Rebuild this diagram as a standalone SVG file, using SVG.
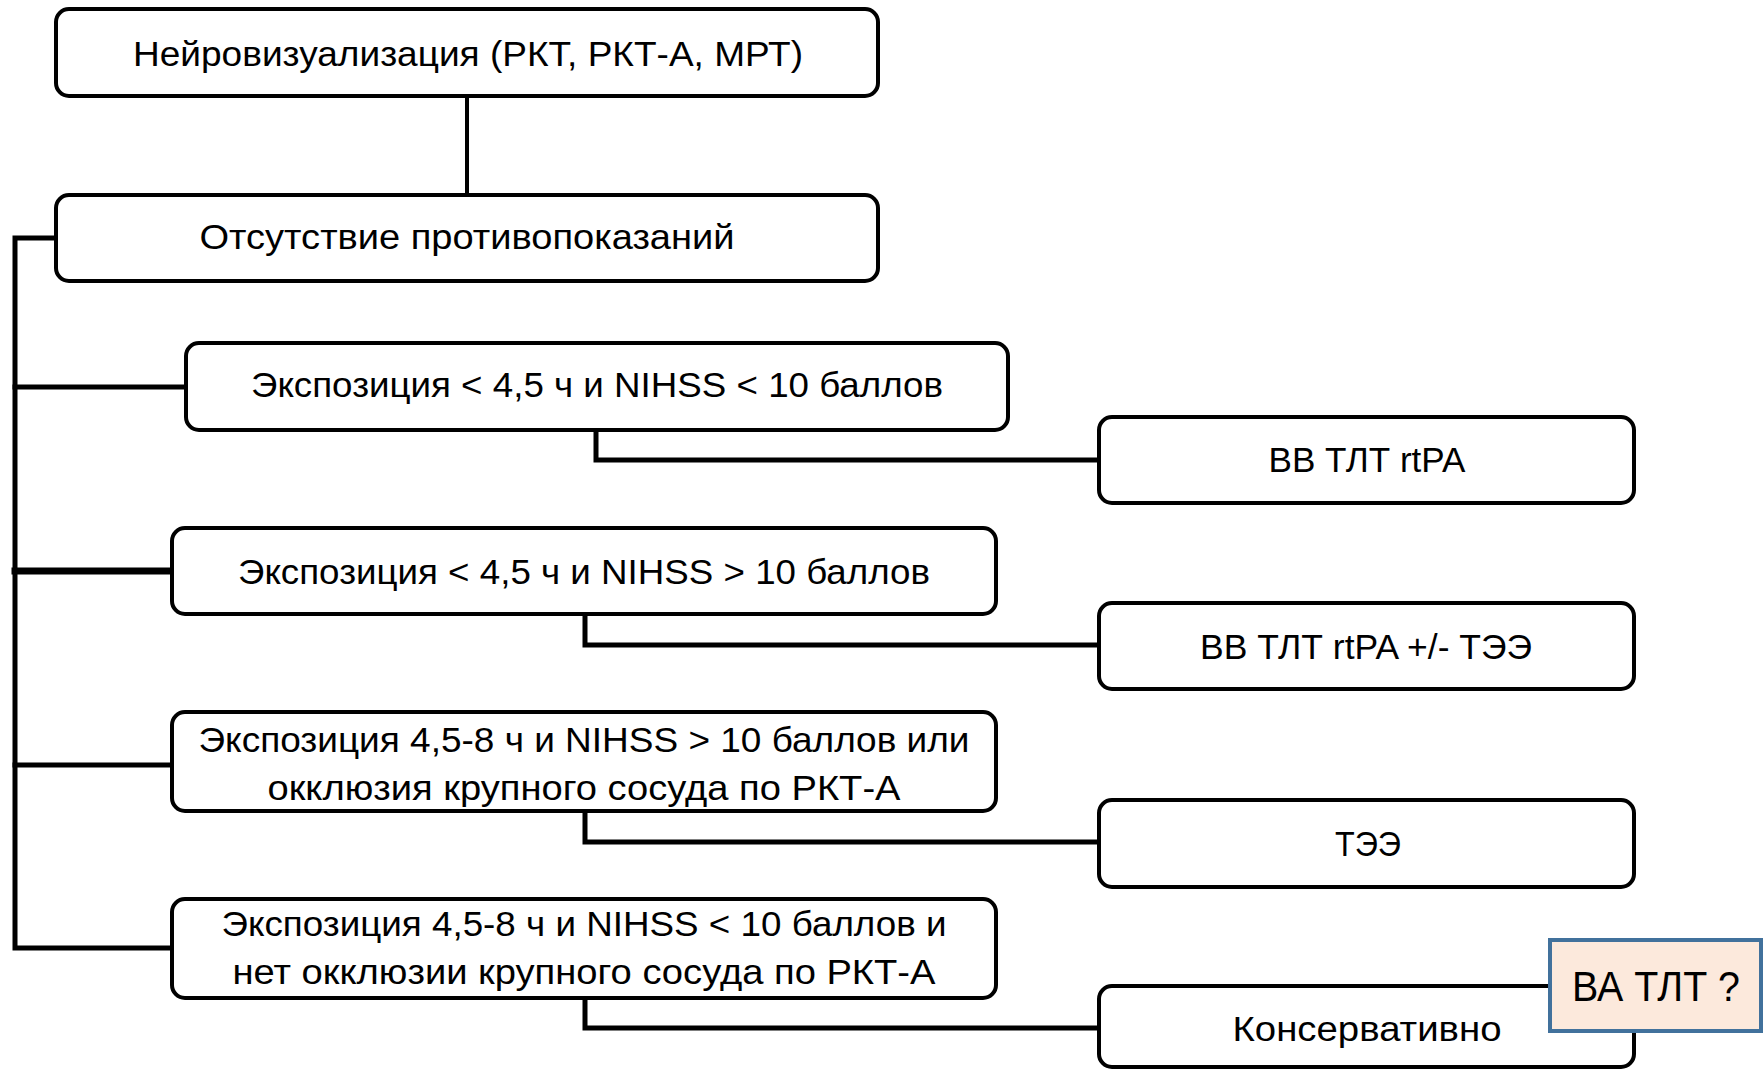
<svg xmlns="http://www.w3.org/2000/svg" width="1764" height="1070" viewBox="0 0 1764 1070">
<style>
.box{fill:#fff;stroke:#000;stroke-width:4}
.t{font-family:"Liberation Sans Narrow","Liberation Sans",Arial,sans-serif;font-size:35px;fill:#000;text-anchor:middle}
.c{fill:none;stroke:#000;stroke-width:5;stroke-linecap:square}
.q{fill:#fce9dc;stroke:#41719c;stroke-width:4}
.qt{font-family:"Liberation Sans",Arial,sans-serif;font-size:42px;fill:#000;text-anchor:middle}
</style>
<rect width="1764" height="1070" fill="#fff"/>
<g id="connectors">
<line class="c" x1="467" y1="96" x2="467" y2="195" style="stroke-width:4"/>
<polyline class="c" points="56,238 15,238 15,948 172,948"/>
<line class="c" x1="15" y1="387" x2="186" y2="387"/>
<line class="c" x1="15" y1="571" x2="172" y2="571" style="stroke-width:7"/>
<line class="c" x1="15" y1="765" x2="172" y2="765"/>
<polyline class="c" points="596,430 596,460 1099,460"/>
<polyline class="c" points="585,614 585,645 1099,645"/>
<polyline class="c" points="585,811 585,842 1099,842"/>
<polyline class="c" points="585,998 585,1028 1099,1028"/>
</g>
<g id="n1"><rect class="box" x="56" y="9" width="822" height="87" rx="13"/><text class="t" x="468" y="66" textLength="670" lengthAdjust="spacingAndGlyphs">Нейровизуализация (РКТ, РКТ-А, МРТ)</text></g>
<g id="n2"><rect class="box" x="56" y="195" width="822" height="86" rx="13"/><text class="t" x="467" y="249" textLength="535" lengthAdjust="spacingAndGlyphs">Отсутствие противопоказаний</text></g>
<g id="n3"><rect class="box" x="186" y="343" width="822" height="87" rx="13"/><text class="t" x="597" y="397" textLength="692" lengthAdjust="spacingAndGlyphs">Экспозиция &lt; 4,5 ч и NIHSS &lt; 10 баллов</text></g>
<g id="n4"><rect class="box" x="172" y="528" width="824" height="86" rx="13"/><text class="t" x="584" y="584" textLength="692" lengthAdjust="spacingAndGlyphs">Экспозиция &lt; 4,5 ч и NIHSS &gt; 10 баллов</text></g>
<g id="n5"><rect class="box" x="172" y="712" width="824" height="99" rx="13"/><text class="t" x="584" y="752" textLength="771" lengthAdjust="spacingAndGlyphs">Экспозиция 4,5-8 ч и NIHSS &gt; 10 баллов или</text><text class="t" x="584" y="800" textLength="633" lengthAdjust="spacingAndGlyphs">окклюзия крупного сосуда по РКТ-А</text></g>
<g id="n6"><rect class="box" x="172" y="899" width="824" height="99" rx="13"/><text class="t" x="584" y="936" textLength="725" lengthAdjust="spacingAndGlyphs">Экспозиция 4,5-8 ч и NIHSS &lt; 10 баллов и</text><text class="t" x="584" y="984" textLength="703" lengthAdjust="spacingAndGlyphs">нет окклюзии крупного сосуда по РКТ-А</text></g>
<g id="rA"><rect class="box" x="1099" y="417" width="535" height="86" rx="13"/><text class="t" x="1367" y="472" textLength="197" lengthAdjust="spacingAndGlyphs">ВВ ТЛТ rtPA</text></g>
<g id="rB"><rect class="box" x="1099" y="603" width="535" height="86" rx="13"/><text class="t" x="1366" y="659" textLength="332" lengthAdjust="spacingAndGlyphs">ВВ ТЛТ rtPA +/- ТЭЭ</text></g>
<g id="rC"><rect class="box" x="1099" y="800" width="535" height="87" rx="13"/><text class="t" x="1368" y="856" textLength="66" lengthAdjust="spacingAndGlyphs">ТЭЭ</text></g>
<g id="rD"><rect class="box" x="1099" y="986" width="535" height="81" rx="13"/><text class="t" x="1367" y="1041" textLength="269" lengthAdjust="spacingAndGlyphs">Консервативно</text></g>
<g id="note"><rect class="q" x="1550" y="940" width="211" height="91"/><text class="qt" x="1656" y="1001" textLength="168" lengthAdjust="spacingAndGlyphs">ВА ТЛТ ?</text></g>
</svg>
